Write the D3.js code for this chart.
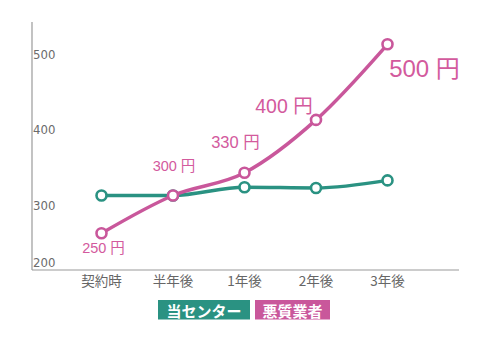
<!DOCTYPE html>
<html><head><meta charset="utf-8">
<script src="https://cdn.jsdelivr.net/npm/d3@7"></script>
<style>body{margin:0;background:#fff}svg{display:block}</style>
</head><body>
<script>
const categories = ["契約時","半年後","1年後","2年後","3年後"];
const centerValues = [300, 300, 311, 310, 320];
const badValues = [250, 300, 330, 400, 500];
const badLabels = ["250 円","300 円","330 円","400 円","500 円"];
const yTicks = [200, 300, 400, 500];
const legendNames = ["当センター","悪質業者"];

const W = 501, H = 351;
const teal = "#2a9282", mag = "#c9579b", labMag = "#d35a9d";
const svg = d3.select("body").append("svg").attr("width", W).attr("height", H);

const x = d3.scalePoint().domain(categories).range([101.5, 387.5]);
const y = d3.scaleLinear().domain([250, 500]).range([233.3, 44.3]);
const axisBottom = 270, axisLeft = 32;

svg.append("line").attr("x1", axisLeft).attr("x2", axisLeft).attr("y1", 22).attr("y2", axisBottom)
  .attr("stroke", "#9a9a9a").attr("stroke-width", 1.2);
svg.append("line").attr("x1", axisLeft).attr("x2", 459).attr("y1", axisBottom).attr("y2", axisBottom)
  .attr("stroke", "#9a9a9a").attr("stroke-width", 1.2);

svg.selectAll(".yt").data(yTicks).enter().append("text")
  .attr("x", 33).attr("y", d => Math.min(y(d) + 10, axisBottom - 8))
  .attr("dominant-baseline", "central")
  .attr("font-family", "DejaVu Sans").attr("font-stretch", "condensed")
  .style("font-stretch", "condensed")
  .attr("font-size", 13).attr("fill", "#6b6b6b")
  .text(d => d);

svg.selectAll(".xt").data(categories).enter().append("text")
  .attr("x", d => x(d)).attr("y", 280).attr("text-anchor", "middle")
  .attr("dominant-baseline", "central")
  .attr("font-family", "Noto Sans CJK JP").attr("font-size", 13.5).attr("fill", "#666")
  .text(d => d);

const line = d3.line().x((d, i) => x(categories[i])).y(d => y(d)).curve(d3.curveMonotoneX);

function series(vals, color) {
  svg.append("path").attr("d", line(vals)).attr("fill", "none")
    .attr("stroke", color).attr("stroke-width", 3.5).attr("stroke-linecap", "round");
  svg.selectAll(null).data(vals).enter().append("circle")
    .attr("cx", (d, i) => x(categories[i])).attr("cy", d => y(d)).attr("r", 5)
    .attr("fill", "#fff").attr("stroke", color).attr("stroke-width", 2.6);
}
series(centerValues, teal);
series(badValues, mag);

const labOff = [[2, 15, 14.5], [1, -30, 14.5], [-9, -31, 16.5], [-32, -14, 19.5], [37, 24, 24]];
svg.selectAll(".vl").data(badValues).enter().append("text")
  .attr("x", (d, i) => x(categories[i]) + labOff[i][0])
  .attr("y", (d, i) => y(d) + labOff[i][1])
  .attr("text-anchor", "middle").attr("dominant-baseline", "central")
  .attr("font-family", "Liberation Sans, Noto Sans CJK JP").attr("font-size", (d, i) => labOff[i][2])
  .attr("fill", labMag)
  .text((d, i) => badLabels[i]);

const leg = [{n: legendNames[0], c: teal, x0: 158, x1: 250}, {n: legendNames[1], c: mag, x0: 255, x1: 330}];
leg.forEach(l => {
  svg.append("rect").attr("x", l.x0).attr("y", 300).attr("width", l.x1 - l.x0).attr("height", 19.5).attr("fill", l.c);
  svg.append("text").attr("x", (l.x0 + l.x1) / 2).attr("y", 310).attr("text-anchor", "middle")
    .attr("dominant-baseline", "central").attr("font-family", "Noto Sans CJK JP")
    .attr("font-weight", "bold").attr("font-size", 15).attr("fill", "#fff").text(l.n);
});
</script>
</body></html>
